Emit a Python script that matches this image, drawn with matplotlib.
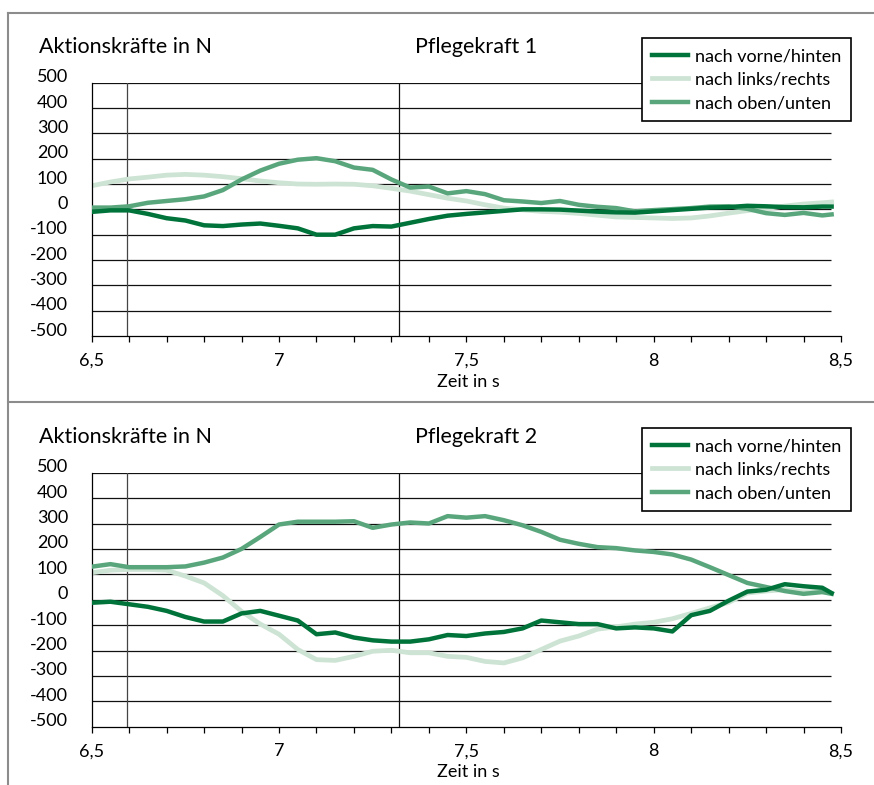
import numpy as np
import matplotlib
matplotlib.use('Agg')
import matplotlib.pyplot as plt
from matplotlib.lines import Line2D
from matplotlib.transforms import ScaledTranslation

plt.rcParams['font.family'] = ['Lato', 'DejaVu Sans']

# time axis (s)
zeit = [6.50, 6.55, 6.60, 6.65, 6.70, 6.75, 6.80, 6.85, 6.90, 6.95,
        7.00, 7.05, 7.10, 7.15, 7.20, 7.25, 7.30, 7.35, 7.40, 7.45,
        7.50, 7.55, 7.60, 7.65, 7.70, 7.75, 7.80, 7.85, 7.90, 7.95,
        8.00, 8.05, 8.10, 8.15, 8.20, 8.25, 8.30, 8.35, 8.40, 8.45, 8.475]

# Pflegekraft 1
pk1_vorne = [-10, -4, -4, -18, -35, -44, -63, -66, -60, -56,
             -65, -75, -100, -100, -75, -66, -68, -53, -38, -25,
             -18, -12, -6, 0, 0, -1, -5, -9, -12, -13,
             -8, -3, 2, 7, 9, 14, 12, 9, 8, 11, 11]
pk1_links = [93, 108, 120, 127, 135, 138, 135, 129, 121, 112,
             105, 100, 99, 100, 99, 93, 83, 72, 58, 44,
             33, 18, 5, -2, -8, -11, -16, -23, -30, -32,
             -34, -36, -34, -26, -15, -5, 3, 13, 21, 26, 29]
pk1_oben = [7, 7, 12, 26, 33, 40, 51, 76, 118, 153,
            180, 196, 202, 190, 165, 156, 118, 86, 90, 63,
            72, 60, 36, 31, 25, 33, 18, 10, 5, -8,
            -3, 1, 5, 11, 12, 2, -15, -22, -14, -24, -20]

# Pflegekraft 2
pk2_vorne = [-12, -8, -18, -28, -44, -68, -86, -86, -54, -44,
             -63, -82, -136, -129, -149, -160, -165, -165, -156, -139,
             -143, -133, -127, -113, -82, -89, -96, -96, -113, -109,
             -113, -125, -61, -44, -4, 32, 39, 61, 53, 47, 26]
pk2_links = [106, 116, 119, 119, 116, 93, 66, 16, -46, -96,
             -136, -196, -236, -239, -223, -203, -199, -209, -209, -223,
             -227, -243, -249, -229, -196, -163, -143, -116, -107, -96,
             -89, -75, -54, -32, -11, 26, 34, 40, 31, 34, 26]
pk2_oben = [130, 140, 128, 128, 128, 131, 146, 166, 200, 247,
            296, 307, 307, 307, 309, 283, 296, 304, 300, 329,
            323, 329, 313, 293, 267, 236, 220, 207, 203, 194,
            188, 178, 158, 128, 97, 66, 50, 34, 23, 30, 23]

labels = ['nach vorne/hinten', 'nach links/rechts', 'nach oben/unten']
colors = ['#00733a', '#cde3d3', '#5aa67c']
yticks = [500, 400, 300, 200, 100, 0, -100, -200, -300, -400, -500]
ytick_labels = ['500', '400', '300', '200', '100', '0', '-100', '-200', '-300', '-400', '-500']
xticks = [6.5, 7, 7.5, 8, 8.5]
xtick_labels = ['6,5', '7', '7,5', '8', '8,5']

W, H = 874, 785
fig = plt.figure(figsize=(W / 100, H / 100), dpi=100)


def px(x0, y0, x1, y1):
    return [x0 / W, 1 - y1 / H, (x1 - x0) / W, (y1 - y0) / H]


def panel(rect, vorne, links, oben, title, top):
    ax = fig.add_axes(rect)
    ax.set_xlim(6.5, 8.5)
    ax.set_ylim(-500, 500)
    ax.hlines(yticks[:-1], 6.5, 8.472, color='#111111', lw=0.9, zorder=1)
    ax.axvline(6.593, color='#444444', lw=0.9, zorder=1)
    ax.axvline(7.321, color='#111111', lw=0.9, zorder=1)
    l2, = ax.plot(zeit, links, color=colors[1], lw=3.4, zorder=2)
    l3, = ax.plot(zeit, oben, color=colors[2], lw=3.2, zorder=3)
    l1, = ax.plot(zeit, vorne, color=colors[0], lw=3.2, zorder=4)
    for s in ['top', 'right']:
        ax.spines[s].set_visible(False)
    ax.spines['left'].set_linewidth(0.9)
    ax.spines['bottom'].set_linewidth(0.9)
    ax.set_yticks(yticks)
    ax.set_yticklabels(ytick_labels, fontsize=13)
    ax.tick_params(axis='y', length=0, pad=17)
    off = ScaledTranslation(0, 5 / 72, fig.dpi_scale_trans)
    for lab in ax.get_yticklabels():
        lab.set_transform(lab.get_transform() + off)
    ax.set_xticks(xticks)
    ax.set_xticklabels(xtick_labels, fontsize=13)
    ax.set_xticks(np.arange(6.6, 8.45, 0.1), minor=True)
    ax.tick_params(axis='x', which='both', direction='out', length=4, width=0.9, pad=8)

    fig.text(39 / W, 1 - (top + 46.7) / H, 'Aktionskräfte in N', fontsize=15.5,
             ha='left', va='center')
    fig.text(415 / W, 1 - (top + 46.7) / H, title, fontsize=15.5, ha='left', va='center')
    fig.text(468 / W, 1 - (top + 381.7) / H, 'Zeit in s', fontsize=13,
             ha='center', va='center')
    leg = ax.legend([l1, l2, l3], labels, loc='upper left',
                    bbox_to_anchor=(641.7 / W, 1 - (top + 38.3) / H),
                    bbox_transform=fig.transFigure, borderaxespad=0,
                    fontsize=13, handlelength=2.0, handletextpad=0.4,
                    labelspacing=0.42, borderpad=0.55, fancybox=False,
                    framealpha=1, edgecolor='black', facecolor='white')
    leg.get_frame().set_linewidth(1.2)
    return ax


panel(px(91.7, 82.7, 841, 336), pk1_vorne, pk1_links, pk1_oben, 'Pflegekraft 1', 0)
panel(px(91.7, 472.7, 841, 726.7), pk2_vorne, pk2_links, pk2_oben, 'Pflegekraft 2', 390)

# grey frame around the panels
g = '#8c8c8c'
fig.add_artist(Line2D([8 / W, 8 / W], [0, 1 - 13 / H], color=g, lw=1.5))
fig.add_artist(Line2D([8 / W, 1], [1 - 13 / H, 1 - 13 / H], color=g, lw=1.5))
fig.add_artist(Line2D([8 / W, 1], [1 - 402 / H, 1 - 402 / H], color=g, lw=1.5))

fig.savefig('out.png', dpi=100)
